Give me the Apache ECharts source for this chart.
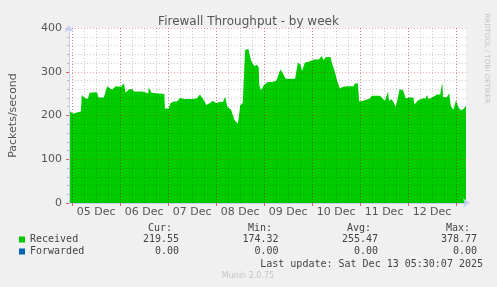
<!DOCTYPE html>
<html><head><meta charset="utf-8">
<script src="https://cdn.jsdelivr.net/npm/echarts@6/dist/echarts.min.js"></script>
<style>html,body{margin:0;padding:0;background:#f0f0f0}#c{width:497px;height:287px}</style>
</head><body><div id="c"></div>
<script>
// hours since 05 Dec 00:00
const hours = [-1.6,-1.0,0.4,2.3,4.3,4.8,6.3,7.8,8.7,11.3,12.6,13.1,15.8,17.5,19.9,21.7,24.3,25.9,26.7,28.4,30.3,30.8,35.0,36.0,38.0,38.3,39.7,40.7,46.1,46.4,48.3,49.1,50.8,52.4,54.0,56.0,59.8,62.3,63.9,65.6,66.5,67.1,68.7,70.4,72.0,73.5,75.4,76.5,77.6,79.5,81.2,82.9,84.1,85.3,86.5,88.1,89.5,91.1,92.4,93.3,93.6,94.5,95.9,97.6,100.5,102.2,104.1,105.3,106.8,111.5,112.9,114.2,115.0,116.4,118.3,121.0,123.4,124.7,125.8,127.0,129.2,130.0,131.6,132.3,133.9,135.6,137.5,140.7,141.4,142.9,143.6,145.0,146.4,148.9,149.8,154.0,154.9,156.4,158.0,158.5,159.7,160.8,161.8,162.5,163.8,165.5,166.9,167.8,168.2,170.7,171.2,173.1,175.2,176.7,177.5,178.3,180.0,180.8,182.5,184.1,185.1,185.6,187.4,188.6,189.4,190.7,191.5,192.0,193.2,194.4,195.7,197.0];
const received = [229,209,204,207,209,247,240,238,252,253,252,241,241,267,259,267,266,273,252,260,260,255,255,252,251,264,252,249,249,216,216,228,232,232,240,238,238,239,248,237,235,224,228,234,228,231,231,243,220,213,190,181,224,228,350,352,325,313,316,310,270,258,270,276,277,280,305,297,284,284,321,316,302,321,323,328,328,336,327,334,334,319,297,283,262,266,267,267,273,273,232,233,235,239,245,245,243,233,255,234,237,230,220,232,260,258,239,237,241,241,225,235,239,239,247,237,241,237,248,248,275,242,242,251,222,213,211,235,219,212,215,222];
const fwdHours = [-1.6, 197.0];
const forwarded = [0, 0];
const dayLabels = ['05 Dec','06 Dec','07 Dec','08 Dec','09 Dec','10 Dec','11 Dec','12 Dec'];
const seriesNames = ['Received','Forwarded'];
const statHeads = ['Cur:','Min:','Avg:','Max:'];
const receivedStats = ['219.55','174.32','255.47','378.77'];
const forwardedStats = ['0.00','0.00','0.00','0.00'];
const lastUpdate = 'Last update: Sat Dec 13 05:30:07 2025';

const xMin = -1.6, xMax = 197.0;
const dayTicks = [];
for (let i = 0; i <= dayLabels.length; i++) dayTicks.push(i * 24);
const labelPos = dayLabels.map((_, i) => i * 24 + 12);

const mono = '10px "DejaVu Sans Mono"';
const headX = [172, 272, 371, 470];
const valX = [179, 278.5, 378, 477];
const g = [];
statHeads.forEach((t, i) => g.push({type:'text', style:{text:t, x:headX[i], y:228, align:'right', verticalAlign:'middle', font:mono, fill:'#444'}}));
receivedStats.forEach((t, i) => g.push({type:'text', style:{text:t, x:valX[i], y:239.5, align:'right', verticalAlign:'middle', font:mono, fill:'#444'}}));
forwardedStats.forEach((t, i) => g.push({type:'text', style:{text:t, x:valX[i], y:251.5, align:'right', verticalAlign:'middle', font:mono, fill:'#444'}}));
g.push({type:'text', style:{text:lastUpdate, x:483, y:264, align:'right', verticalAlign:'middle', font:mono, fill:'#444'}});
g.push({type:'text', style:{text:'Munin 2.0.75', x:248, y:276, align:'center', verticalAlign:'middle', font:'8px "DejaVu Sans"', fill:'#c4c4c4'}});
g.push({type:'text', x:487, y:58.5, rotation:-Math.PI/2, style:{text:'RRDTOOL / TOBI OETIKER', x:0, y:0, align:'center', verticalAlign:'middle', font:'7px "DejaVu Sans"', fill:'#c4c4c4'}});

const majorGrid = {color:'rgba(220,0,0,0.33)', type:[1,2], width:1};
const minorGrid = {color:'rgba(0,0,0,0.2)', type:[1,2], width:1};
const axisBlue = '#c8cff5';
const font = 'DejaVu Sans';
const hiddenAxis = {type:'value', min:xMin, max:xMax, position:'bottom', axisLine:{show:false}, axisLabel:{show:false}, axisTick:{show:false}};

const chart = echarts.init(document.getElementById('c'), null, {renderer:'canvas'});
chart.setOption({
  animation: false,
  backgroundColor: '#f0f0f0',
  title: {text:'Firewall Throughput - by week', left:'center', top:11, textStyle:{color:'#555', fontSize:12, fontWeight:'normal', fontFamily:font}},
  grid: {left:67, right:31, top:28, bottom:84, show:true, backgroundColor:'#fff', borderWidth:0},
  legend: {data:seriesNames, orient:'vertical', left:14, top:228.5, itemWidth:6, itemHeight:6, itemGap:0, icon:'rect',
    textStyle:{color:'#444', fontSize:10, fontFamily:'DejaVu Sans Mono', lineHeight:12}, selectedMode:false},
  xAxis: [
    {type:'value', min:xMin, max:xMax, z:5, position:'bottom',
      axisLine:{show:true, onZero:false, lineStyle:{color:axisBlue}, symbol:['none','arrow'], symbolSize:[7,7], symbolOffset:[0,4]},
      axisTick:{show:true, customValues:dayTicks, length:3, lineStyle:{color:'#e06060'}},
      axisLabel:{customValues:labelPos, formatter:v => dayLabels[Math.round((v - 12) / 24)], color:'#555', fontSize:11, fontFamily:font, margin:4},
      splitLine:{show:false}},
    Object.assign({}, hiddenAxis, {z:3, minInterval:6, maxInterval:6, splitLine:{show:true, showMinLine:false, showMaxLine:false, lineStyle:minorGrid}}),
    Object.assign({}, hiddenAxis, {z:4, minInterval:24, maxInterval:24, splitLine:{show:true, showMinLine:false, showMaxLine:false, lineStyle:majorGrid}})
  ],
  yAxis: {type:'value', min:0, max:400, interval:100, z:5,
    name:'Packets/second', nameLocation:'middle', nameGap:50, nameRotate:90,
    nameTextStyle:{color:'#555', fontSize:11, fontFamily:font},
    axisLine:{show:true, onZero:false, lineStyle:{color:axisBlue}, symbol:['none','arrow'], symbolSize:[7,7], symbolOffset:[0,3]},
    axisTick:{show:true, length:3, lineStyle:{color:'#e06060'}},
    axisLabel:{color:'#555', fontSize:11, fontFamily:font, margin:7},
    splitLine:{show:true, lineStyle:majorGrid},
    minorTick:{show:true, splitNumber:5, length:2, lineStyle:{color:'#bbb'}},
    minorSplitLine:{show:true, lineStyle:minorGrid}},
  series: [
    {name:seriesNames[0], type:'line', xAxisIndex:0, z:1, showSymbol:false, color:'#00cc00',
      data: hours.map((h, i) => [h, received[i]]),
      lineStyle:{width:0}, areaStyle:{color:'#00cc00', opacity:1}},
    {name:seriesNames[1], type:'line', xAxisIndex:0, z:1, showSymbol:false, color:'#0066b3',
      data: fwdHours.map((h, i) => [h, forwarded[i]]),
      lineStyle:{width:0}, areaStyle:{color:'#0066b3', opacity:1}}
  ],
  graphic: g
});
</script></body></html>
